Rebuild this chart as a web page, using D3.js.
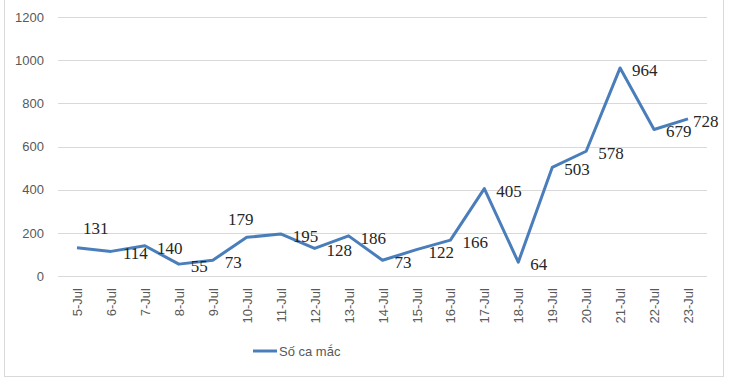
<!DOCTYPE html>
<html>
<head>
<meta charset="utf-8">
<script src="https://cdn.jsdelivr.net/npm/d3@7"></script>
<style>
  body { margin: 0; background: #fff; }
  svg { display: block; }
</style>
</head>
<body>
<div id="chart"></div>
<script>
// Data
// ===========================
var days = ["5-Jul", "6-Jul", "7-Jul", "8-Jul", "9-Jul", "10-Jul", "11-Jul", "12-Jul",
  "13-Jul", "14-Jul", "15-Jul", "16-Jul", "17-Jul", "18-Jul", "19-Jul", "20-Jul",
  "21-Jul", "22-Jul", "23-Jul"];
var cases = [131, 114, 140, 55, 73, 179, 195, 128, 186, 73, 122, 166, 405, 64, 503, 578, 964, 679, 728];
var yTicks = [0, 200, 400, 600, 800, 1000, 1200];
var seriesName = "Số ca mắc";

var width = 729;
var height = 381;

var svg = d3.select("#chart")
  .append("svg")
  .attr("width", width)
  .attr("height", height);

// chart border
svg.append("rect")
  .attr("x", 4.5)
  .attr("y", -1)
  .attr("width", 719)
  .attr("height", 377.5)
  .attr("fill", "none")
  .attr("stroke", "#d9d9d9");

// Scales
var xScale = d3.scalePoint()
  .domain(days)
  .range([77, 688]);

var yScale = d3.scaleLinear()
  .domain([0, 1200])
  .range([276, 17]);

// gridlines
svg.append("g")
  .selectAll("line")
  .data(yTicks)
  .enter()
  .append("line")
  .attr("x1", 58)
  .attr("x2", 707)
  .attr("y1", function(d) { return Math.round(yScale(d)) + 0.5; })
  .attr("y2", function(d) { return Math.round(yScale(d)) + 0.5; })
  .attr("stroke", "#d9d9d9")
  .attr("stroke-width", 1);

// Y axis
var yAxis = d3.axisLeft(yScale)
  .tickValues(yTicks)
  .tickFormat(d3.format("d"))
  .tickSize(0)
  .tickPadding(0);
var yG = svg.append("g")
  .attr("transform", "translate(44,0)")
  .call(yAxis);
yG.select(".domain").remove();
yG.selectAll("text")
  .attr("fill", "#595959")
  .style("font-family", "'Liberation Sans', Arial, sans-serif")
  .style("font-size", "13px");

// X axis
var xAxis = d3.axisBottom(xScale).tickSize(0);
var xG = svg.append("g")
  .attr("transform", "translate(0,276)")
  .call(xAxis);
xG.select(".domain").remove();
xG.selectAll("text")
  .attr("fill", "#595959")
  .style("font-family", "'Liberation Sans', Arial, sans-serif")
  .style("font-size", "13px")
  .attr("text-anchor", "end")
  .attr("dy", "0.35em")
  .attr("transform", "translate(0,12) rotate(-90)")
  .attr("x", 0)
  .attr("y", 0);

// Line
var line = d3.line()
  .x(function(d, i) { return xScale(days[i]); })
  .y(function(d) { return yScale(d); });

svg.append("path")
  .datum(cases)
  .attr("d", line)
  .attr("fill", "none")
  .attr("stroke", "#4a7ebb")
  .attr("stroke-width", 3)
  .attr("stroke-linejoin", "round");

// Data labels (mostly to the right of the point)
var labelShift = {
  "5-Jul": [6, -20, "start"],
  "10-Jul": [-6, -18, "middle"],
  "23-Jul": [5, 2, "start"]
};
svg.append("g")
  .selectAll("text")
  .data(cases)
  .enter()
  .append("text")
  .attr("x", function(d, i) {
    var s = labelShift[days[i]];
    return xScale(days[i]) + (s ? s[0] : 12);
  })
  .attr("y", function(d, i) {
    var s = labelShift[days[i]];
    return yScale(d) + (s ? s[1] : 2);
  })
  .attr("dy", "0.35em")
  .attr("text-anchor", function(d, i) {
    var s = labelShift[days[i]];
    return s ? s[2] : "start";
  })
  .attr("fill", "#262626")
  .style("font-family", "'Liberation Serif', 'Times New Roman', serif")
  .style("font-size", "17px")
  .text(function(d) { return d; });

// Legend
var legend = svg.append("g").attr("transform", "translate(253,351)");
legend.append("line")
  .attr("x1", 0)
  .attr("x2", 24)
  .attr("stroke", "#4a7ebb")
  .attr("stroke-width", 3);
legend.append("text")
  .attr("x", 26)
  .attr("y", 0)
  .attr("dy", "0.35em")
  .attr("fill", "#595959")
  .style("font-family", "'Liberation Sans', Arial, sans-serif")
  .style("font-size", "13px")
  .text(seriesName);
</script>
</body>
</html>
